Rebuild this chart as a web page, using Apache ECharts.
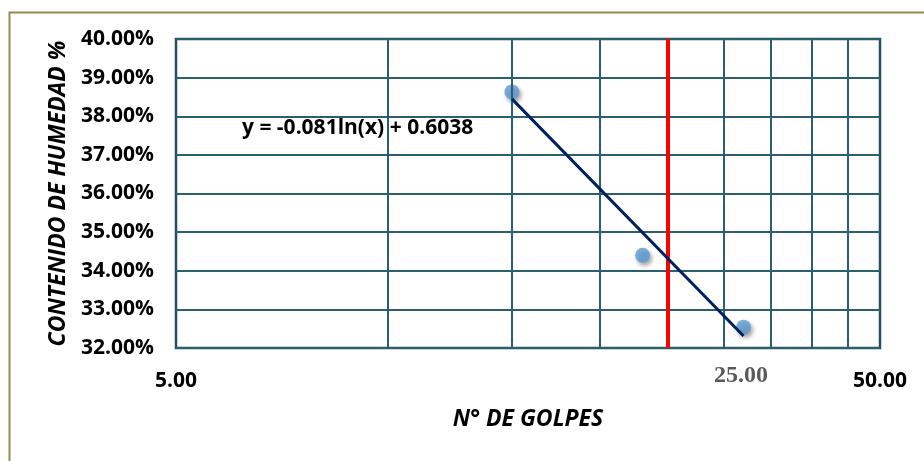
<!DOCTYPE html>
<html>
<head>
<meta charset="utf-8">
<script src="https://cdn.jsdelivr.net/npm/echarts@6/dist/echarts.min.js"></script>
<style>
  html, body { margin: 0; padding: 0; background: #fff; }
  #main { width: 924px; height: 461px; }
</style>
</head>
<body>
<div id="main"></div>
<script>
// datos
var golpes = [15, 23, 32];
var humedad = [0.3863, 0.3440, 0.3254];
// linea de tendencia (extremos del rango de datos)
var trendX = [15, 32];
var trendY = [0.3845, 0.3231];
var ecuacion = 'y = -0.081ln(x) + 0.6038';
// lineas de la grilla vertical y el limite a 25 golpes
var gridX = [10, 15, 20, 25, 30, 35, 40, 45];
var limite = 25;
var xLabels = [5, 50];
var yMin = 0.32, yMax = 0.40, yStep = 0.01;

var font = '"Open Sans", "Liberation Sans", sans-serif';
var gridColor = '#2C5F6E';

var chart = echarts.init(document.getElementById('main'));

var option = {
  animation: false,
  backgroundColor: '#fff',
  grid: {
    left: 176, right: 44, top: 39, bottom: 113,
    show: true,
    borderColor: '#22515F',
    borderWidth: 2.5,
    backgroundColor: 'transparent'
  },
  xAxis: {
    type: 'log',
    logBase: 10,
    min: 5,
    max: 50,
    axisLine: { show: false },
    axisTick: { show: false },
    splitLine: { show: false },
    minorSplitLine: { show: false },
    axisLabel: {
      customValues: xLabels,
      formatter: function (v) { return Number(v).toFixed(2); },
      margin: 23,
      color: '#000',
      fontFamily: font,
      fontWeight: 'bold',
      fontSize: 21
    },
    name: 'N° DE GOLPES',
    nameLocation: 'middle',
    nameGap: 60,
    nameTextStyle: {
      color: '#000',
      fontFamily: font,
      fontWeight: 'bold',
      fontStyle: 'italic',
      fontSize: 23
    }
  },
  yAxis: {
    type: 'value',
    min: yMin,
    max: yMax,
    interval: yStep,
    axisLine: { show: false },
    axisTick: { show: false },
    splitLine: { show: true, lineStyle: { color: gridColor, width: 2 } },
    axisLabel: {
      formatter: function (v) { return (v * 100).toFixed(2) + '%'; },
      margin: 22,
      color: '#000',
      fontFamily: font,
      fontWeight: 'bold',
      fontSize: 21
    },
    name: 'CONTENIDO DE HUMEDAD %',
    nameLocation: 'middle',
    nameGap: 104,
    nameTextStyle: {
      color: '#000',
      fontFamily: font,
      fontWeight: 'bold',
      fontStyle: 'italic',
      fontSize: 23
    }
  },
  series: [
    {
      // grilla vertical
      type: 'line',
      data: [],
      silent: true,
      z: 1,
      markLine: {
        silent: true,
        symbol: ['none', 'none'],
        label: { show: false },
        lineStyle: { color: gridColor, width: 2, type: 'solid' },
        data: gridX.map(function (x) { return { xAxis: x }; })
      }
    },
    {
      // limite 25 golpes
      type: 'line',
      data: [],
      silent: true,
      z: 3,
      markLine: {
        silent: true,
        symbol: ['none', 'none'],
        label: { show: false },
        lineStyle: { color: '#FF0000', width: 4, type: 'solid' },
        data: [{ xAxis: limite }]
      }
    },
    {
      name: 'Humedad',
      type: 'scatter',
      z: 4,
      symbolSize: 15,
      itemStyle: {
        color: '#5B9BD5',
        shadowBlur: 4,
        shadowColor: 'rgba(0,0,0,0.45)',
        shadowOffsetX: 2,
        shadowOffsetY: 3
      },
      data: golpes.map(function (g, i) { return [g, humedad[i]]; })
    },
    {
      name: 'Tendencia',
      type: 'line',
      z: 5,
      showSymbol: false,
      lineStyle: { color: '#002060', width: 3 },
      data: trendX.map(function (x, i) { return [x, trendY[i]]; })
    }
  ],
  graphic: [
    {
      type: 'rect',
      left: 7, top: 10,
      shape: { width: 930, height: 470 },
      style: { fill: 'none', stroke: '#948A54', lineWidth: 2 },
      z: -1,
      silent: true
    },
    {
      type: 'text',
      left: 242, top: 118,
      style: {
        text: ecuacion,
        fill: '#000',
        font: 'bold 21px ' + font
      },
      z: 10
    },
    {
      type: 'text',
      left: 714, top: 364,
      style: {
        text: '25.00',
        fill: '#595959',
        font: 'bold 24px "Liberation Serif", "DejaVu Serif", serif'
      },
      z: 10
    }
  ]
};

chart.setOption(option);
</script>
</body>
</html>
